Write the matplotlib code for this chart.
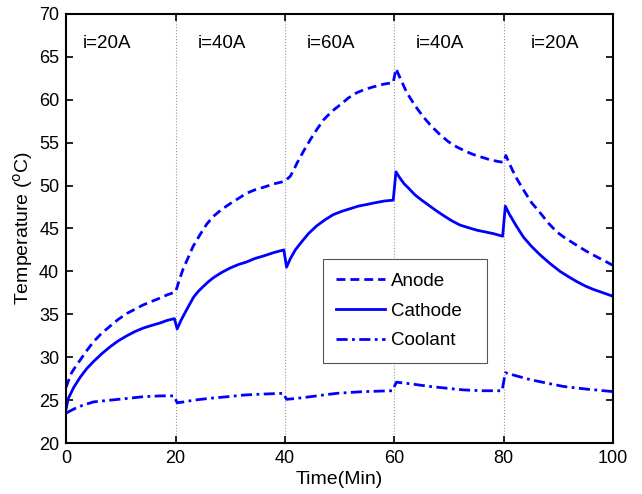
import matplotlib
matplotlib.use("Agg")
import matplotlib.pyplot as plt

plt.rcParams['font.family'] = ['Liberation Sans', 'DejaVu Sans']

# values (minutes, degC)
anode_t = [0, 0.5, 1, 1.8, 2.6, 3.8, 5, 6.5, 8, 9.5, 11.1, 12.6, 14.1, 15.6, 17.2, 18.6, 20,
           20.4, 20.8, 21.4, 22.1, 23.2, 24.5, 25.7, 26.9, 28.4, 30, 31.5, 33, 34.5, 36.1, 38, 40,
           40.5, 41, 41.6, 42.2, 43.4, 44.6, 45.8, 47, 48.5, 50.1, 51.6, 53.1, 54.6, 56.2, 58, 59.8,
           60.3, 60.8, 61.5, 62.3, 63.8, 65.3, 66.8, 68.4, 69.9, 71.4, 73, 74.5, 76, 77.5, 79, 80,
           80.4, 81, 82.2, 83.6, 85.1, 86.7, 88.2, 89.7, 91.2, 92.7, 94.2, 95.8, 97.6, 100]
anode_T = [26.5, 27.4, 28.2, 29.0, 29.7, 30.8, 31.8, 32.8, 33.6, 34.4, 35.1, 35.6, 36.1, 36.5, 36.9, 37.3, 37.6,
           38.4, 39.2, 40.3, 41.3, 42.9, 44.3, 45.5, 46.4, 47.2, 47.9, 48.5, 49.1, 49.5, 49.8, 50.2, 50.5,
           50.8, 51.1, 51.8, 52.6, 54.0, 55.3, 56.5, 57.6, 58.6, 59.4, 60.2, 60.8, 61.2, 61.5, 61.8, 62.0,
           63.6, 62.9, 61.9, 60.8, 59.3, 58.0, 56.9, 55.9, 55.1, 54.5, 54.0, 53.6, 53.3, 53.0, 52.8, 52.7,
           53.5, 52.6, 51.0, 49.5, 48.0, 46.8, 45.6, 44.6, 43.9, 43.3, 42.7, 42.1, 41.5, 40.7]

cathode_t = [0, 0.4, 1.4, 2.6, 3.8, 5, 6.5, 8, 9.5, 11.1, 12.6, 14.1, 15.6, 17.2, 18.5, 19.8,
             20.3, 21, 22, 23.3, 24.2, 25, 26, 27, 28.5, 30, 31.5, 33, 34.5, 36.1, 38, 39.8,
             40.3, 41, 41.9, 43, 44.3, 45.8, 47.3, 48.8, 50.4, 51.9, 53.4, 55, 56.5, 58.2, 59.8,
             60.3, 61, 61.8, 62.6, 63.8, 65, 66.3, 67.6, 69, 70.5, 72, 73.5, 75.1, 76.6, 78.1, 79.8,
             80.3, 81, 82.2, 83.6, 85.1, 86.7, 88.5, 90.3, 91.8, 93.4, 94.9, 96.4, 98.2, 100]
cathode_T = [24.0, 25.2, 26.5, 27.7, 28.7, 29.5, 30.4, 31.2, 31.9, 32.5, 33.0, 33.4, 33.7, 34.0, 34.3, 34.5,
             33.3, 34.3, 35.5, 37.0, 37.7, 38.2, 38.8, 39.3, 39.9, 40.4, 40.8, 41.1, 41.5, 41.8, 42.2, 42.5,
             40.5, 41.5, 42.5, 43.4, 44.4, 45.3, 46.0, 46.6, 47.0, 47.3, 47.6, 47.8, 48.0, 48.2, 48.3,
             51.6, 50.9, 50.2, 49.7, 48.9, 48.3, 47.7, 47.1, 46.5, 45.9, 45.4, 45.1, 44.8, 44.6, 44.4, 44.1,
             47.6, 46.7, 45.4, 44.0, 42.9, 41.9, 40.9, 40.0, 39.4, 38.8, 38.3, 37.9, 37.5, 37.1]

coolant_t = [0, 1.5, 3, 5, 8, 11.1, 14, 17.2, 19.7, 20.3, 21.5, 23.3, 26, 29.4, 32.5, 35.5, 39.7,
             40.3, 42, 44.6, 47, 49.5, 54.4, 59.6, 60.4, 63, 66.5, 69.5, 72.6, 76, 79.7,
             80.3, 82.5, 84.8, 87.8, 90.9, 95, 100]
coolant_T = [23.5, 24.0, 24.4, 24.8, 25.0, 25.2, 25.4, 25.5, 25.5, 24.7, 24.8, 25.0, 25.2, 25.4, 25.6, 25.7, 25.8,
             25.1, 25.2, 25.4, 25.6, 25.8, 26.0, 26.1, 27.1, 26.9, 26.6, 26.4, 26.2, 26.1, 26.1,
             28.2, 27.8, 27.4, 27.0, 26.6, 26.3, 26.0]

switch_times = [20, 40, 60, 80]
current_labels = ['i=20A', 'i=40A', 'i=60A', 'i=40A', 'i=20A']
label_x = [3, 24, 44, 64, 85]

fig = plt.figure(figsize=(6.42, 4.94), dpi=100)
ax = fig.add_axes([0.103, 0.103, 0.852, 0.869])

# current step boundaries
for s in switch_times:
    ax.axvline(s, color='#999999', linestyle=':', linewidth=0.8, zorder=1)

ax.plot(anode_t, anode_T, color='#0000ff', linewidth=2.0, dashes=(3.2, 1.8), label='Anode')
ax.plot(cathode_t, cathode_T, color='#0000ff', linewidth=2.0, label='Cathode')
ax.plot(coolant_t, coolant_T, color='#0000ff', linewidth=2.0, dashes=(4.0, 1.6, 1.0, 1.6), label='Coolant')

for x, txt in zip(label_x, current_labels):
    ax.text(x, 66.6, txt, fontsize=13.5, va='center', ha='left')

ax.set_xlim(0, 100)
ax.set_ylim(20, 70)
ax.set_xticks([0, 20, 40, 60, 80, 100])
ax.set_yticks(range(20, 71, 5))
ax.tick_params(direction='in', length=5, width=1.2, labelsize=13, top=True, right=True, pad=5)
for sp in ax.spines.values():
    sp.set_linewidth(1.5)

ax.set_xlabel('Time(Min)', fontsize=14, labelpad=3)
ax.set_ylabel('Temperature ($^{\\mathrm{o}}$C)', fontsize=14, labelpad=3)

leg = ax.legend(loc='upper left', bbox_to_anchor=(0.47, 0.20, 0.30, 0.228), mode='expand',
                borderaxespad=0, fontsize=13.5, handlelength=2.6, handletextpad=0.3,
                labelspacing=0.68, borderpad=0.7, fancybox=False,
                framealpha=1, edgecolor='#555555')
leg.get_frame().set_linewidth(0.8)

fig.savefig('out.png', dpi=100)
